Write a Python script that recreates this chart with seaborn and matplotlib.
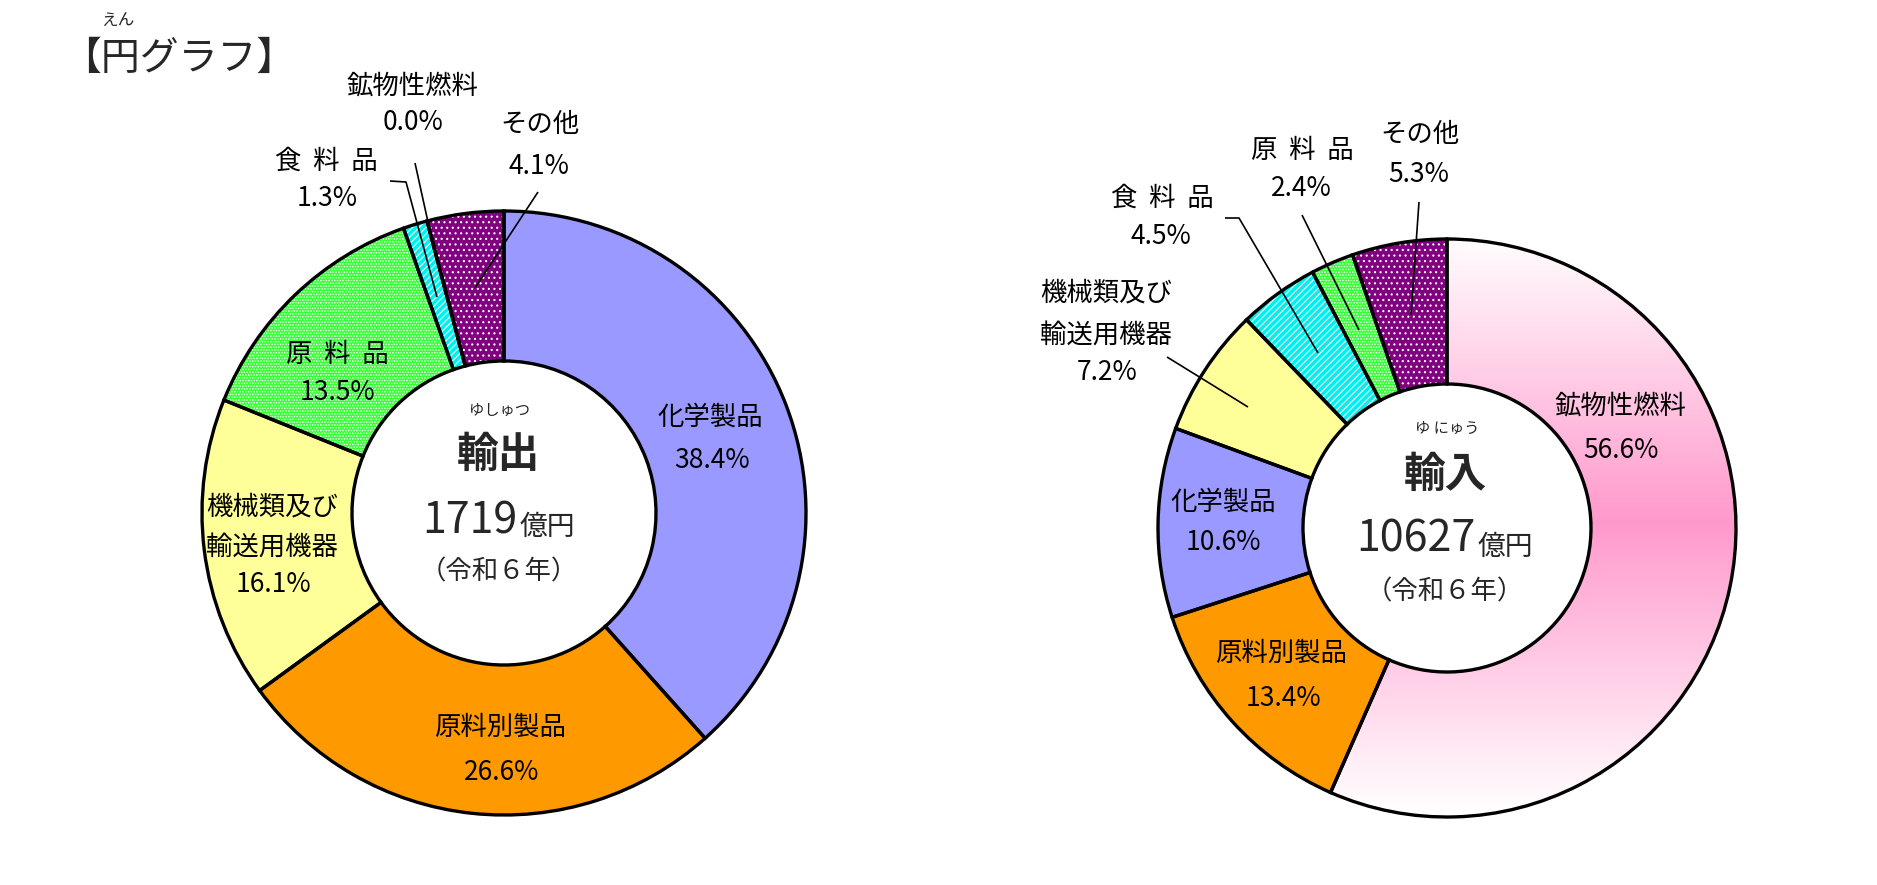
import matplotlib
matplotlib.use('Agg')
import matplotlib.pyplot as plt
import matplotlib.patches as mpatches
import numpy as np
import seaborn as sns

sns.set_theme(style='white')
plt.rcParams['font.family'] = ['Noto Sans CJK JP', 'DejaVu Sans']
plt.rcParams['hatch.linewidth'] = 0.8

# ---------------- data ----------------
export_categories = ['化学製品', '原料別製品', '機械類及び輸送用機器', '原料品', '食料品', '鉱物性燃料', 'その他']
export_values = [38.4, 26.6, 16.1, 13.5, 1.3, 0.0, 4.1]
import_categories = ['鉱物性燃料', '原料別製品', '化学製品', '機械類及び輸送用機器', '食料品', '原料品', 'その他']
import_values = [56.6, 13.4, 10.6, 7.2, 4.5, 2.4, 5.3]
export_total = '1719'
import_total = '10627'
title_text = '【円グラフ】'
title_ruby = 'えん'
year_text = '（令和６年）'

# ---------------- styles ----------------
colors = {'化学製品': '#9999FF', '原料別製品': '#FF9900', '機械類及び輸送用機器': '#FFFF99',
          '原料品': '#33FF33', '食料品': '#00F0F0', '鉱物性燃料': '#FFFFFF', 'その他': '#800080'}
hatches = {'原料品': '......', '食料品': '/////', 'その他': '...'}
label_lines = {'化学製品': ['化学製品'], '原料別製品': ['原料別製品'],
               '機械類及び輸送用機器': ['機械類及び', '輸送用機器'],
               '原料品': ['原  料  品'], '食料品': ['食  料  品'],
               '鉱物性燃料': ['鉱物性燃料'], 'その他': ['その他']}

W, H = 1877, 885
fig = plt.figure(figsize=(W / 100, H / 100), dpi=100)
ax = fig.add_axes([0, 0, 1, 1])

LFS = 19  # label font size


def Y(y):
    return H - y


def donut(values, cats, cx, cy, r_out, r_in, gradient_cat=None):
    fc = [colors[c] for c in cats]
    wedges, _ = ax.pie(values, radius=r_out, center=(cx, Y(cy)), startangle=90,
                       counterclock=False, colors=fc,
                       wedgeprops=dict(width=r_out - r_in, edgecolor='none', linewidth=0))
    for w, c in zip(wedges, cats):
        w.set_zorder(1)
        if c in hatches:
            hp = mpatches.Wedge((cx, Y(cy)), r_out, w.theta1, w.theta2, width=r_out - r_in,
                                facecolor='none', edgecolor='white', hatch=hatches[c],
                                linewidth=0, zorder=2)
            ax.add_patch(hp)
        if c == gradient_cat:
            ys = np.linspace(0, 1, 500)
            t = np.abs(ys - 0.49) * 2
            t = np.clip(t, 0, 1)
            pink = np.array([255, 153, 204]) / 255
            img = (1 - t)[:, None] * pink + t[:, None] * np.ones(3)
            img = np.repeat(img[:, None, :], 2, axis=1)
            im = ax.imshow(img, extent=(cx - r_out, cx + r_out, Y(cy) - r_out, Y(cy) + r_out),
                           aspect='auto', zorder=1.5, interpolation='bilinear')
            im.set_clip_path(w)
        op = mpatches.Wedge((cx, Y(cy)), r_out, w.theta1, w.theta2, width=r_out - r_in,
                            fill=False, edgecolor='black', linewidth=2.4, zorder=4)
        ax.add_patch(op)
    return wedges


donut(export_values, export_categories, 504, 513, 302, 152)
donut(import_values, import_categories, 1447, 528, 289, 144, gradient_cat='鉱物性燃料')

# ---------------- labels ----------------
export_label_pos = {'化学製品': [(710, 417), (712, 460)],
                    '原料別製品': [(500, 727), (502, 772)],
                    '機械類及び輸送用機器': [(272, 507), (272, 547), (273, 585)],
                    '原料品': [(337, 354), (337, 393)],
                    '食料品': [(326, 161), (327, 198)],
                    '鉱物性燃料': [(412, 86), (413, 123)],
                    'その他': [(540, 125), (539, 166)]}
import_label_pos = {'鉱物性燃料': [(1620, 406), (1621, 450)],
                    '原料別製品': [(1281, 653), (1283, 698)],
                    '化学製品': [(1223, 502), (1223, 543)],
                    '機械類及び輸送用機器': [(1106, 293), (1106, 335), (1107, 373)],
                    '食料品': [(1162, 198), (1161, 237)],
                    '原料品': [(1302, 150), (1301, 188)],
                    'その他': [(1420, 135), (1419, 174)]}


def put_labels(cats, values, pos):
    for c, v in zip(cats, values):
        lines = label_lines[c] + [f'{v:.1f}%']
        for s, (x, y) in zip(lines, pos[c]):
            ax.text(x, Y(y), s, ha='center', va='center', fontsize=LFS, color='black', zorder=6)


put_labels(export_categories, export_values, export_label_pos)
put_labels(import_categories, import_values, import_label_pos)

# leader lines
leaders = [[(538, 192), (475, 288)],
           [(390, 181), (406, 182), (437, 297)],
           [(415, 163), (428, 222)],
           [(1167, 357), (1248, 407)],
           [(1225, 218), (1239, 218), (1318, 353)],
           [(1302, 215), (1359, 330)],
           [(1419, 202), (1411, 315)]]
for pts in leaders:
    xs = [p[0] for p in pts]
    ys = [Y(p[1]) for p in pts]
    ax.plot(xs, ys, color='black', lw=1.2, zorder=5, solid_capstyle='butt')

# ---------------- center texts ----------------
ax.text(500, Y(410), 'ゆしゅつ', ha='center', va='center', fontsize=11, zorder=6)
ax.text(498, Y(455), '輸出', ha='center', va='center', fontsize=30, fontweight='bold', zorder=6)
ax.text(518, Y(533), export_total, ha='right', va='baseline', fontsize=31, zorder=6)
ax.text(520, Y(535), '億円', ha='left', va='baseline', fontsize=20, zorder=6)
ax.text(499, Y(572), year_text, ha='center', va='center', fontsize=19, zorder=6)

ax.text(1447, Y(428), 'ゆ にゅう', ha='center', va='center', fontsize=11, zorder=6)
ax.text(1445, Y(475), '輸入', ha='center', va='center', fontsize=30, fontweight='bold', zorder=6)
ax.text(1476, Y(552), import_total, ha='right', va='baseline', fontsize=31, zorder=6)
ax.text(1478, Y(555), '億円', ha='left', va='baseline', fontsize=20, zorder=6)
ax.text(1445, Y(592), year_text, ha='center', va='center', fontsize=19, zorder=6)

# ---------------- title ----------------
ax.text(179, Y(59), title_text, ha='center', va='center', fontsize=28, zorder=6)
ax.text(118, Y(20), title_ruby, ha='center', va='center', fontsize=12, zorder=6)

ax.set_xlim(0, W)
ax.set_ylim(0, H)
ax.set_aspect('equal')
ax.axis('off')
fig.savefig('out.png', dpi=100, facecolor='white')
